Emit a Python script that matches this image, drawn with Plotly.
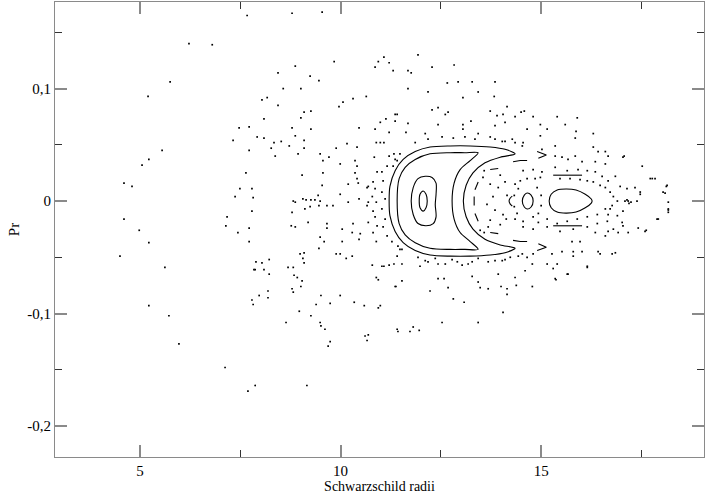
import plotly.graph_objects as go

# ---------------- Regular orbits (invariant curves) ----------------
# outer crescent (closed, tips at the right)
c1_x = [14.35, 14.10, 13.73, 13.23, 12.73, 12.23, 11.86, 11.56, 11.36, 11.23, 11.21,
        11.23, 11.36, 11.56, 11.86, 12.23, 12.73, 13.23, 13.73, 14.10, 14.35,
        13.98, 13.60, 13.30, 13.13, 13.06, 13.13, 13.30, 13.60, 13.98, 14.35]
c1_y = [0.042, 0.046, 0.048, 0.049, 0.049, 0.048, 0.044, 0.037, 0.027, 0.013, 0.0,
        -0.013, -0.027, -0.037, -0.044, -0.048, -0.049, -0.049, -0.048, -0.046, -0.042,
        -0.039, -0.034, -0.025, -0.014, 0.0, 0.014, 0.025, 0.034, 0.039, 0.042]
# inner crescent
c2_x = [13.43, 13.10, 12.73, 12.23, 11.86, 11.61, 11.46, 11.41, 11.46, 11.61, 11.86,
        12.23, 12.73, 13.10, 13.43, 13.23, 12.98, 12.83, 12.78, 12.83, 12.98, 13.23, 13.43]
c2_y = [0.043, 0.043, 0.043, 0.042, 0.037, 0.030, 0.020, 0.0, -0.020, -0.030, -0.037,
        -0.042, -0.043, -0.043, -0.043, -0.036, -0.028, -0.016, 0.0, 0.016, 0.028, 0.036, 0.043]
# D-shaped orbit around the left fixed point
d_x = [11.76, 11.81, 11.93, 12.11, 12.28, 12.38, 12.38, 12.36, 12.38, 12.31, 12.13, 11.93, 11.81, 11.76]
d_y = [0.0, 0.012, 0.020, 0.022, 0.021, 0.016, 0.006, -0.003, -0.014, -0.020, -0.022, -0.020, -0.012, 0.0]
# small loop around the left fixed point
s1_x = [11.96, 11.98, 12.06, 12.13, 12.16, 12.13, 12.06, 11.98, 11.96]
s1_y = [0.0, 0.006, 0.009, 0.006, 0.0, -0.006, -0.009, -0.006, 0.0]
# large egg-shaped orbit on the right
egg_x = [15.20, 15.25, 15.40, 15.62, 15.87, 16.10, 16.25, 16.27, 16.25, 16.10, 15.87,
         15.62, 15.40, 15.25, 15.20]
egg_y = [0.0, 0.006, 0.0098, 0.0107, 0.0098, 0.006, 0.0018, 0.0, -0.0018, -0.006, -0.0098,
         -0.0107, -0.0098, -0.006, 0.0]
# small island loop on the right
s2_x = [14.53, 14.58, 14.65, 14.75, 14.80, 14.75, 14.65, 14.58, 14.53]
s2_y = [0.0, 0.0053, 0.0071, 0.0053, 0.0, -0.0053, -0.0071, -0.0053, 0.0]
# small arc left of the island
arc_x = [14.28, 14.23, 14.20, 14.23, 14.28]
arc_y = [0.0044, 0.0027, 0.0, -0.0027, -0.0044]
# broken (dashed) outer crescent and small chevrons
brk_x = [14.30, 14.48, 14.65, None, 13.73, 13.93, None, 13.43, 13.35, None, 13.33, 13.33, None,
         13.35, 13.43, None, 13.73, 13.93, None, 14.30, 14.48, 14.65, None,
         14.90, 15.13, 14.93, None, 14.90, 15.13, 14.93, None,
         15.30, 16.02, None, 15.30, 16.02]
brk_y = [0.035, 0.036, 0.036, None, 0.028, 0.029, None, 0.017, 0.010, None, 0.004, -0.004, None,
         -0.011, -0.018, None, -0.028, -0.029, None, -0.035, -0.036, -0.036, None,
         0.044, 0.041, 0.038, None, -0.044, -0.041, -0.038, None,
         0.023, 0.023, None, -0.022, -0.022]

# ---------------- Chaotic sea (individual section points) ----------------
sea_far = [
    (7.67, 0.165), (8.79, 0.167), (9.54, 0.168),
    (6.22, 0.140), (6.80, 0.139), (5.75, 0.106), (5.20, 0.093), (7.47, 0.065), (7.72, 0.066),
    (7.92, 0.057), (7.32, 0.054), (5.55, 0.045), (7.72, 0.045), (5.22, 0.037), (5.05, 0.032),
    (7.64, 0.025), (4.60, 0.016), (4.80, 0.013), (7.49, 0.011), (7.79, 0.011), (7.37, 0.004),
    (7.82, 0.003), (7.79, -0.009), (4.60, -0.016), (7.17, -0.014), (7.14, -0.022), (4.98, -0.026),
    (7.44, -0.028), (7.72, -0.024), (5.22, -0.037), (7.72, -0.036), (4.50, -0.049), (5.62, -0.059),
    (7.89, -0.054), (7.87, -0.061), (7.97, -0.084), (7.79, -0.088), (7.82, -0.092), (5.22, -0.093),
    (5.72, -0.102), (5.97, -0.127), (7.12, -0.148), (7.87, -0.164), (7.69, -0.169),
]
sea_mid = [
    (10.94, 0.124), (11.08, 0.128), (11.21, 0.123), (9.84, 0.124), (8.87, 0.120), (8.44, 0.114),
    (9.24, 0.111), (9.46, 0.107), (11.31, 0.116), (10.86, 0.119), (8.57, 0.100), (9.01, 0.100),
    (8.17, 0.092), (8.04, 0.090), (10.64, 0.093), (10.31, 0.091), (10.06, 0.088), (9.96, 0.084),
    (8.44, 0.085), (9.26, 0.080), (9.09, 0.079), (9.01, 0.074), (11.41, 0.077), (11.13, 0.073),
    (11.36, 0.071), (10.99, 0.070), (8.09, 0.073), (8.79, 0.065), (9.26, 0.064), (10.46, 0.065),
    (10.86, 0.064), (11.21, 0.061), (8.09, 0.056), (8.87, 0.058), (9.09, 0.054), (8.34, 0.052),
    (8.52, 0.053), (8.72, 0.049), (9.09, 0.047), (8.27, 0.047), (9.89, 0.047), (10.16, 0.051),
    (10.41, 0.048), (10.89, 0.052), (10.99, 0.052), (11.08, 0.052), (8.37, 0.040), (8.94, 0.042),
    (9.49, 0.042), (9.71, 0.039), (9.56, 0.036), (9.99, 0.033), (10.36, 0.036), (10.41, 0.031),
    (11.21, 0.040), (11.33, 0.042), (11.41, 0.036), (11.16, 0.031), (9.04, 0.023), (9.56, 0.025),
    (10.36, 0.025), (10.41, 0.020), (10.19, 0.015), (10.44, 0.016), (9.54, 0.014), (8.82, 0.000),
    (8.87, -0.001), (9.06, 0.002), (9.14, 0.001), (9.26, 0.001), (9.36, 0.001), (9.44, 0.005),
    (9.49, 0.000), (9.46, -0.004), (9.66, -0.004), (9.81, -0.004), (9.99, 0.006), (10.19, -0.001),
    (10.46, 0.002), (10.66, 0.012), (10.69, -0.001), (8.79, -0.010), (9.24, -0.005), (9.11, -0.007),
    (8.87, -0.023), (8.77, -0.022), (9.19, -0.019), (9.66, -0.020), (9.66, -0.024), (10.04, -0.025),
    (10.31, -0.020), (10.29, -0.028), (10.49, -0.029), (10.46, -0.034), (9.49, -0.032), (9.59, -0.036),
    (10.04, -0.036), (9.46, -0.042), (9.89, -0.047), (9.99, -0.047), (10.14, -0.051), (10.29, -0.049),
    (9.09, -0.046), (8.99, -0.047), (9.06, -0.051), (9.09, -0.055), (8.82, -0.059), (8.84, -0.066),
    (8.92, -0.068), (8.22, -0.052), (8.04, -0.055), (7.84, -0.061), (8.09, -0.061), (8.22, -0.065),
    (8.69, -0.059), (9.04, -0.071), (9.01, -0.076), (8.79, -0.078), (8.82, -0.081), (8.19, -0.080),
    (8.19, -0.086), (9.51, -0.084), (9.39, -0.092), (9.74, -0.091), (9.99, -0.084), (10.34, -0.090),
    (10.59, -0.093), (8.97, -0.098), (9.26, -0.102), (9.49, -0.108), (9.51, -0.111), (8.64, -0.108),
    (9.61, -0.114), (9.74, -0.125), (9.69, -0.129), (10.61, -0.120), (10.69, -0.119), (10.66, -0.124),
    (10.94, -0.095), (10.99, -0.093), (10.89, -0.068), (10.94, -0.070), (11.38, -0.076), (11.03, -0.058),
    (11.08, -0.058), (11.21, -0.057), (11.33, -0.056), (11.41, -0.114), (10.79, -0.057), (9.16, -0.164),
]
sea_left_band = [
    (10.84, 0.039), (10.91, 0.026), (10.81, 0.017), (10.86, 0.011), (10.79, 0.004), (10.89, -0.001),
    (10.81, -0.009), (10.86, -0.014), (10.91, -0.022), (10.81, -0.028), (10.89, -0.036), (10.69, 0.013),
    (10.66, -0.004), (10.69, -0.019), (11.03, 0.026), (11.06, 0.018), (11.03, 0.008), (11.11, 0.002),
    (11.03, -0.007), (11.11, -0.016), (11.06, -0.023), (11.16, -0.031), (11.31, 0.031), (11.36, 0.037),
    (11.48, 0.042), (11.28, -0.036), (11.48, -0.043),
]
sea_upper = [
    (11.93, 0.130), (12.28, 0.119), (12.83, 0.121), (11.68, 0.116), (11.76, 0.114), (12.66, 0.105),
    (12.93, 0.106), (13.28, 0.106), (13.85, 0.106), (11.68, 0.100), (12.18, 0.097), (13.05, 0.092),
    (13.43, 0.097), (13.83, 0.093), (12.28, 0.081), (12.43, 0.083), (12.68, 0.079), (12.61, 0.077),
    (13.73, 0.080), (14.15, 0.084), (14.50, 0.079), (14.58, 0.080), (14.05, 0.077), (13.90, 0.076),
    (14.35, 0.075), (14.80, 0.075), (15.40, 0.075), (15.90, 0.074), (11.36, 0.077), (11.68, 0.069),
    (12.43, 0.068), (13.05, 0.068), (13.25, 0.071), (13.85, 0.067), (14.10, 0.070), (14.98, 0.068),
    (15.15, 0.064), (14.65, 0.064), (11.63, 0.061), (12.11, 0.060), (13.05, 0.064), (13.43, 0.060),
    (13.73, 0.057), (14.03, 0.053), (14.28, 0.055), (14.55, 0.052), (14.98, 0.058), (15.35, 0.049),
    (15.85, 0.056), (16.30, 0.060), (16.30, 0.048), (16.42, 0.044), (16.67, 0.040), (17.07, 0.040),
    (15.85, 0.040), (16.02, 0.035), (16.35, 0.035), (16.60, 0.033), (16.85, 0.022), (17.34, 0.012),
    (17.47, 0.008), (17.77, 0.020), (18.14, 0.014), (18.09, 0.007), (15.35, 0.040), (15.52, 0.039),
    (15.67, 0.037), (15.02, 0.046),
    (11.86, 0.052), (12.18, 0.055), (12.53, 0.057), (12.81, 0.056), (13.10, 0.057), (13.35, 0.055),
    (13.85, 0.055), (14.10, 0.053), (14.35, 0.052), (14.53, 0.049),
]
sea_lower = [
    (11.43, -0.040), (11.53, -0.043), (11.41, -0.049), (11.53, -0.056), (11.93, -0.050), (12.11, -0.053),
    (11.98, -0.058), (12.18, -0.054), (12.43, -0.056), (12.61, -0.056), (12.91, -0.054), (13.03, -0.057),
    (13.18, -0.056), (13.28, -0.054), (13.68, -0.054), (13.85, -0.053), (14.03, -0.053), (14.23, -0.050),
    (14.53, -0.047), (14.65, -0.050), (14.80, -0.047), (15.27, -0.047), (15.52, -0.045), (15.80, -0.045),
    (16.02, -0.045), (16.42, -0.045), (16.85, -0.046), (16.15, -0.059), (15.67, -0.065), (15.35, -0.069),
    (15.30, -0.060), (15.15, -0.056), (15.77, -0.036), (15.97, -0.036), (16.35, -0.028), (16.67, -0.027),
    (17.02, -0.019), (17.17, -0.028), (17.59, -0.027), (17.92, -0.016), (18.17, -0.010), (18.17, -0.007),
    (11.36, -0.076), (11.53, -0.071), (12.23, -0.080), (12.43, -0.069), (12.58, -0.069), (12.68, -0.077),
    (13.43, -0.072), (13.48, -0.077), (13.68, -0.078), (14.00, -0.076), (14.15, -0.078), (14.15, -0.083),
    (14.38, -0.075), (14.78, -0.076), (14.60, -0.062), (14.78, -0.056), (15.40, -0.056), (14.05, -0.099),
    (13.08, -0.090), (12.81, -0.087), (13.43, -0.108), (12.53, -0.108), (11.73, -0.116), (11.81, -0.112),
    (11.43, -0.116), (11.96, -0.115), (13.28, -0.067), (13.93, -0.065), (14.35, -0.068), (16.60, -0.031),
    (12.36, -0.051), (12.78, -0.052), (13.43, -0.051), (14.10, -0.052), (14.43, -0.049),
]
sea_islands = [
    (14.35, 0.015), (14.48, 0.018), (14.65, 0.020), (14.85, 0.020), (14.98, 0.021), (15.47, 0.020),
    (15.72, 0.020), (15.97, 0.019), (16.15, 0.018), (16.30, 0.017), (16.47, 0.014), (16.60, 0.012),
    (16.72, 0.008), (16.80, 0.004), (16.90, 0.000), (14.35, -0.016), (14.55, -0.018), (14.80, -0.014),
    (14.93, -0.019), (15.15, -0.016), (15.40, -0.020), (15.65, -0.018), (15.90, -0.016), (16.15, -0.014),
    (16.40, -0.012), (16.60, -0.007), (16.77, -0.004), (16.72, -0.007), (16.67, -0.012),
    (14.43, 0.011), (14.40, -0.011), (14.90, 0.012), (14.93, -0.011), (15.00, 0.005), (15.00, -0.004),
    (14.33, 0.005), (14.33, -0.005),
    (14.55, 0.027), (14.80, 0.028), (15.02, 0.026), (15.35, 0.030), (15.65, 0.027), (15.92, 0.028),
    (16.15, 0.027), (16.35, 0.026), (16.52, 0.022), (16.67, 0.018), (16.97, 0.013), (17.14, 0.011),
    (14.55, -0.023), (14.80, -0.025), (15.15, -0.023), (15.47, -0.027), (15.80, -0.025), (16.15, -0.023),
    (16.40, -0.020), (16.65, -0.018), (16.90, -0.013), (17.04, -0.009),
    (17.09, 0.0), (17.17, 0.0), (17.24, -0.001), (17.14, 0.001), (17.19, -0.002),
    (15.60, 0.068), (15.87, 0.062), (16.60, 0.044), (17.04, 0.039), (17.52, 0.031), (17.72, 0.020),
    (17.84, 0.020), (18.12, 0.013), (18.04, 0.008), (18.17, -0.001), (18.17, -0.008), (17.89, -0.016),
    (17.62, -0.026), (17.42, -0.024), (16.92, -0.028), (16.77, -0.047), (16.47, -0.047), (16.15, -0.058),
    (15.65, -0.065), (15.37, -0.070), (15.80, -0.049), (16.80, -0.025), (17.04, -0.022), (17.47, 0.006),
    (17.39, 0.000),
    (13.73, 0.015), (13.80, 0.004), (13.65, -0.003), (13.85, -0.008), (13.73, -0.017), (13.55, 0.021),
    (13.93, 0.012), (13.68, -0.023), (14.15, 0.005), (14.05, -0.012), (13.48, -0.026), (13.98, 0.023),
    (14.10, 0.017), (13.98, -0.021), (14.13, -0.016), (13.58, 0.027), (13.58, -0.028),
]

x_ticks = [5, 10, 15]
x_minor = [7.5, 12.5, 17.5]
y_ticks = [-0.2, -0.1, 0, 0.1]
y_tick_text = ["-0,2", "-0,1", "0", "0,1"]
y_minor = [-0.15, -0.05, 0.05, 0.15]

fig = go.Figure()

curves = [(c1_x, c1_y), (c2_x, c2_y), (d_x, d_y), (s1_x, s1_y), (egg_x, egg_y),
          (s2_x, s2_y), (arc_x, arc_y)]
for cx, cy in curves:
    fig.add_trace(go.Scatter(x=cx, y=cy, mode="lines",
                             line=dict(color="black", width=1.1, shape="spline", smoothing=0.8),
                             hoverinfo="skip", showlegend=False))
fig.add_trace(go.Scatter(x=brk_x, y=brk_y, mode="lines", connectgaps=False,
                         line=dict(color="black", width=1.1),
                         hoverinfo="skip", showlegend=False))

all_pts = sea_far + sea_mid + sea_left_band + sea_upper + sea_lower + sea_islands
fig.add_trace(go.Scatter(x=[p[0] for p in all_pts], y=[p[1] for p in all_pts], mode="markers",
                         marker=dict(color="black", size=1.7, symbol="square", line=dict(width=0)),
                         hoverinfo="skip", showlegend=False))

font = dict(family="Liberation Serif, Times New Roman, serif", size=15, color="black")
title_font = dict(family="Liberation Serif, Times New Roman, serif", size=14, color="black")
axis_common = dict(showgrid=False, zeroline=False, showline=True, linecolor="#8a8a8a", linewidth=1,
                   mirror="ticks", ticks="inside", ticklen=12, tickwidth=2, tickcolor="#8a8a8a",
                   tickfont=font, automargin=False)

fig.update_layout(
    width=708, height=498,
    margin=dict(l=55, r=4, t=2, b=41),
    paper_bgcolor="white", plot_bgcolor="white",
    font=font,
    xaxis=dict(range=[2.88, 19.06], tickvals=x_ticks, ticktext=[str(v) for v in x_ticks],
               minor=dict(tickvals=x_minor, ticks="inside", ticklen=7, tickwidth=1, tickcolor="#333"),
               title=dict(text="Schwarzschild radii", font=title_font, standoff=0), **axis_common),
    yaxis=dict(range=[-0.2276, 0.177], tickvals=y_ticks, ticktext=y_tick_text,
               minor=dict(tickvals=y_minor, ticks="inside", ticklen=7, tickwidth=1, tickcolor="#333"),
               title=dict(text="Pr", font=font, standoff=4), **axis_common),
)

fig.write_html("out.html", config={"displayModeBar": False, "staticPlot": True},
               post_script="document.body.style.margin='0';document.body.style.overflow='hidden';")
